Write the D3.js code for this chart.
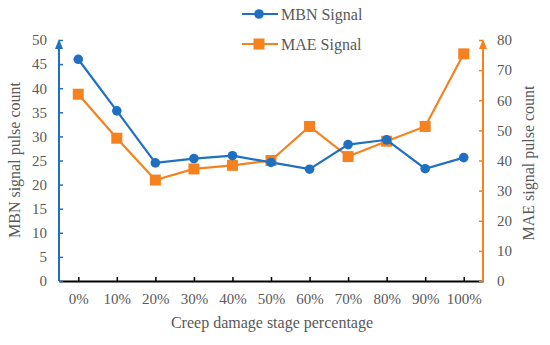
<!DOCTYPE html>
<html>
<head>
<meta charset="utf-8">
<script src="https://cdn.jsdelivr.net/npm/d3@7"></script>
<style>
  body { margin: 0; background: #fff; }
  text { font-family: "Liberation Serif", "Times New Roman", serif; fill: #595959; }
</style>
</head>
<body>
<svg id="chart" width="550" height="345"></svg>
<script>
// data
var categories = ["0%", "10%", "20%", "30%", "40%", "50%", "60%", "70%", "80%", "90%", "100%"];
var mbnValues = [46.0, 35.3, 24.5, 25.4, 26.0, 24.6, 23.2, 28.3, 29.3, 23.3, 25.6];
var maeValues = [62.0, 47.4, 33.5, 37.2, 38.4, 40.0, 51.3, 41.3, 46.4, 51.3, 75.4];
var leftTicks = [0, 5, 10, 15, 20, 25, 30, 35, 40, 45, 50];
var rightTicks = [0, 10, 20, 30, 40, 50, 60, 70, 80];

var blue = "#1f70c1", orange = "#f5821f";

var svg = d3.select("#chart");
var mLeft = 59, mRight = 483, mTop = 40, mBottom = 281;

var x = d3.scalePoint().domain(categories).range([mLeft, mRight]).padding(0.5);
var yL = d3.scaleLinear().domain([0, 50]).range([mBottom, mTop]);
var yR = d3.scaleLinear().domain([0, 80]).range([mBottom, mTop]);

// arrow markers
var defs = svg.append("defs");
[["arrBlue", blue], ["arrOrange", orange]].forEach(function(a) {
  defs.append("marker")
    .attr("id", a[0]).attr("viewBox", "0 0 10 10")
    .attr("refX", 5).attr("refY", 5)
    .attr("markerWidth", 5).attr("markerHeight", 5)
    .attr("orient", "auto")
    .append("path").attr("d", "M0,1 L10,5 L0,9 Z").attr("fill", a[1]);
});

// x axis (black, ticks pointing up)
var xAxis = svg.append("g")
  .attr("transform", "translate(0," + mBottom + ")")
  .call(d3.axisBottom(x).tickSizeInner(-4).tickSizeOuter(0).tickPadding(12));
xAxis.select(".domain").attr("stroke", "#000").attr("stroke-width", 2);
xAxis.selectAll(".tick line").attr("stroke", "#000").attr("stroke-width", 1.5);
xAxis.selectAll("text").style("font-size", "15px").attr("fill", "#595959");
svg.append("line").attr("x1", mRight).attr("x2", mRight).attr("y1", mBottom).attr("y2", mBottom - 4)
  .attr("stroke", "#000").attr("stroke-width", 1.5);

// left axis
var gl = svg.append("g")
  .attr("transform", "translate(" + mLeft + ",0)")
  .call(d3.axisLeft(yL).tickValues(leftTicks).tickSizeInner(-4).tickSizeOuter(0).tickPadding(12));
gl.select(".domain").remove();
gl.selectAll(".tick line").attr("stroke", blue).attr("stroke-width", 1.5);
gl.selectAll("text").style("font-size", "15px").attr("fill", "#595959");
svg.append("line").attr("x1", mLeft).attr("x2", mLeft).attr("y1", mBottom).attr("y2", mTop + 4)
  .attr("stroke", blue).attr("stroke-width", 2).attr("marker-end", "url(#arrBlue)");

// right axis
var gr = svg.append("g")
  .attr("transform", "translate(" + mRight + ",0)")
  .call(d3.axisRight(yR).tickValues(rightTicks).tickSizeInner(-4).tickSizeOuter(0).tickPadding(14));
gr.select(".domain").remove();
gr.selectAll(".tick line").attr("stroke", orange).attr("stroke-width", 1.5);
gr.selectAll("text").style("font-size", "15px").attr("fill", "#595959");
svg.append("line").attr("x1", mRight).attr("x2", mRight).attr("y1", mBottom).attr("y2", mTop + 4)
  .attr("stroke", orange).attr("stroke-width", 2).attr("marker-end", "url(#arrOrange)");

// series
var lineL = d3.line().x(function(d, i) { return x(categories[i]); }).y(function(d) { return yL(d); });
var lineR = d3.line().x(function(d, i) { return x(categories[i]); }).y(function(d) { return yR(d); });

svg.append("path").datum(maeValues).attr("d", lineR)
  .attr("fill", "none").attr("stroke", orange).attr("stroke-width", 2.2);
svg.selectAll(".sq").data(maeValues).enter().append("rect")
  .attr("class", "sq")
  .attr("x", function(d, i) { return x(categories[i]) - 5.5; })
  .attr("y", function(d) { return yR(d) - 5.5; })
  .attr("width", 11).attr("height", 11).attr("fill", orange);

svg.append("path").datum(mbnValues).attr("d", lineL)
  .attr("fill", "none").attr("stroke", blue).attr("stroke-width", 2.2);
svg.selectAll(".dot").data(mbnValues).enter().append("circle")
  .attr("class", "dot")
  .attr("cx", function(d, i) { return x(categories[i]); })
  .attr("cy", function(d) { return yL(d); })
  .attr("r", 4.8).attr("fill", blue);

// legend
var leg = svg.append("g");
leg.append("line").attr("x1", 242).attr("x2", 278).attr("y1", 14).attr("y2", 14)
  .attr("stroke", blue).attr("stroke-width", 2.2);
leg.append("circle").attr("cx", 259).attr("cy", 14).attr("r", 4.8).attr("fill", blue);
leg.append("text").attr("x", 281).attr("y", 19.5).style("font-size", "16px").text("MBN Signal");
leg.append("line").attr("x1", 242).attr("x2", 278).attr("y1", 44).attr("y2", 44)
  .attr("stroke", orange).attr("stroke-width", 2.2);
leg.append("rect").attr("x", 253.5).attr("y", 38.5).attr("width", 11).attr("height", 11).attr("fill", orange);
leg.append("text").attr("x", 281).attr("y", 49.5).style("font-size", "16px").text("MAE Signal");

// axis titles
svg.append("text").attr("transform", "translate(20,160) rotate(-90)")
  .attr("text-anchor", "middle").style("font-size", "16px").text("MBN signal  pulse count");
svg.append("text").attr("transform", "translate(534,163) rotate(-90)")
  .attr("text-anchor", "middle").style("font-size", "16px").text("MAE signal pulse count");
svg.append("text").attr("x", 272).attr("y", 328)
  .attr("text-anchor", "middle").style("font-size", "16px").text("Creep damage stage percentage");
</script>
</body>
</html>
